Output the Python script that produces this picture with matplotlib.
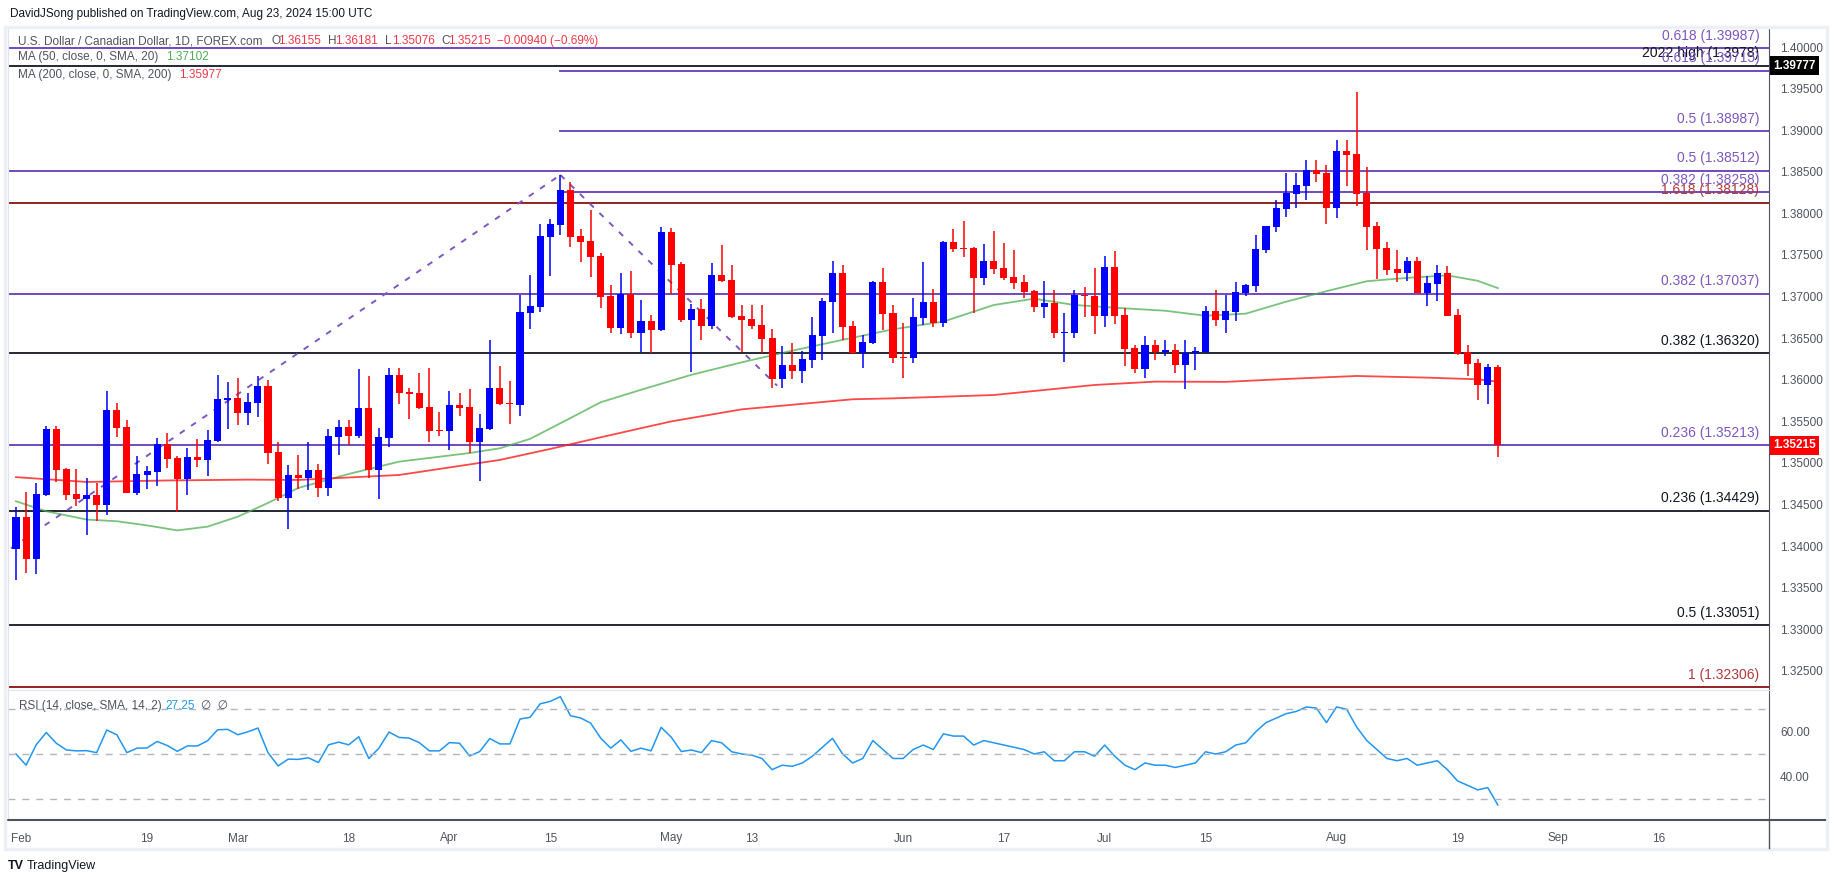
import numpy as np
import matplotlib
matplotlib.use("Agg")
import matplotlib.pyplot as plt
from matplotlib.lines import Line2D
from matplotlib.patches import Rectangle

plt.rcParams['font.family'] = ['Liberation Sans', 'DejaVu Sans']

# daily USD/CAD candles, Jan 31 - Aug 23 2024
opens = [1.33971, 1.34351, 1.33851, 1.34616, 1.35409, 1.34928, 1.34628, 1.34568, 1.34616, 1.34495,
         1.35637, 1.35433, 1.34640, 1.34856, 1.34892, 1.35229, 1.35060, 1.34808, 1.35072, 1.35036,
         1.35265, 1.35757, 1.35781, 1.35601, 1.35721, 1.35926, 1.35132, 1.34580, 1.34856, 1.34820,
         1.34916, 1.34700, 1.35313, 1.35433, 1.35325, 1.35661, 1.34916, 1.35301, 1.36058, 1.35854,
         1.35842, 1.35673, 1.35397, 1.35385, 1.35697, 1.35673, 1.35253, 1.35409, 1.35902, 1.35721,
         1.35697, 1.36803, 1.36875, 1.37716, 1.37861, 1.38281, 1.37728, 1.37668, 1.37488, 1.37007,
         1.36623, 1.37031, 1.36563, 1.36707, 1.36599, 1.37776, 1.37392, 1.36719, 1.36851, 1.36647,
         1.37260, 1.37200, 1.36767, 1.36731, 1.36659, 1.36503, 1.36010, 1.36178, 1.36106, 1.36238,
         1.36527, 1.36935, 1.37284, 1.36647, 1.36322, 1.36442, 1.37176, 1.36803, 1.36274, 1.36262,
         1.36743, 1.36935, 1.36683, 1.37656, 1.37584, 1.37584, 1.37224, 1.37428, 1.37344, 1.37236,
         1.37176, 1.37067, 1.36875, 1.36923, 1.36563, 1.36563, 1.37019, 1.37007, 1.36767, 1.37356,
         1.36779, 1.36382, 1.36130, 1.36418, 1.36334, 1.36358, 1.36178, 1.36318, 1.36335, 1.36827,
         1.36719, 1.36815, 1.37044, 1.37128, 1.37560, 1.37837, 1.38053, 1.38233, 1.38330, 1.38522,
         1.38486, 1.38065, 1.38750, 1.38714, 1.38245, 1.37849, 1.37584, 1.37332, 1.37284, 1.37428,
         1.37044, 1.37152, 1.37284, 1.36779, 1.36334, 1.36202, 1.35938, 1.36155]
highs = [1.34471, 1.34652, 1.34760, 1.35445, 1.35445, 1.34940, 1.34928, 1.34820, 1.34760, 1.35865,
         1.35721, 1.35517, 1.35084, 1.34964, 1.35301, 1.35361, 1.35084, 1.35180, 1.35289, 1.35397,
         1.36058, 1.35974, 1.36022, 1.35841, 1.36046, 1.35998, 1.35253, 1.34976, 1.35096, 1.35253,
         1.34988, 1.35409, 1.35517, 1.35517, 1.36130, 1.36046, 1.35421, 1.36142, 1.36142, 1.35902,
         1.36082, 1.36142, 1.35613, 1.35866, 1.35842, 1.35890, 1.35589, 1.36479, 1.36166, 1.35986,
         1.37019, 1.37260, 1.37873, 1.37933, 1.38462, 1.38377, 1.37813, 1.38041, 1.37524, 1.37140,
         1.37284, 1.37308, 1.36959, 1.36779, 1.37837, 1.37825, 1.37416, 1.36911, 1.36971, 1.37404,
         1.37620, 1.37380, 1.36899, 1.36899, 1.36899, 1.36611, 1.36406, 1.36442, 1.36346, 1.36755,
         1.36983, 1.37428, 1.37380, 1.36707, 1.36539, 1.37188, 1.37344, 1.36899, 1.36683, 1.36983,
         1.37416, 1.37091, 1.37668, 1.37812, 1.37909, 1.37596, 1.37632, 1.37788, 1.37644, 1.37560,
         1.37260, 1.37079, 1.37188, 1.37079, 1.36803, 1.37079, 1.37115, 1.37344, 1.37488, 1.37548,
         1.36863, 1.36418, 1.36527, 1.36478, 1.36478, 1.36430, 1.36478, 1.36395, 1.36887, 1.37080,
         1.37020, 1.37176, 1.37152, 1.37741, 1.37849, 1.38161, 1.38486, 1.38486, 1.38642, 1.38642,
         1.38582, 1.38882, 1.38882, 1.39459, 1.38558, 1.37897, 1.37656, 1.37560, 1.37476, 1.37476,
         1.37248, 1.37380, 1.37368, 1.36851, 1.36418, 1.36250, 1.36190, 1.36181]
lows = [1.33594, 1.33682, 1.33666, 1.34604, 1.34772, 1.34556, 1.34483, 1.34135, 1.34303, 1.34375,
        1.35313, 1.34640, 1.34616, 1.34688, 1.34724, 1.34940, 1.34411, 1.34616, 1.34952, 1.34844,
        1.35253, 1.35409, 1.35457, 1.35457, 1.35553, 1.34988, 1.34544, 1.34207, 1.34688, 1.34676,
        1.34592, 1.34604, 1.35097, 1.35217, 1.35301, 1.34820, 1.34568, 1.35193, 1.35709, 1.35529,
        1.35649, 1.35253, 1.35325, 1.35157, 1.35565, 1.35121, 1.34784, 1.35397, 1.35697, 1.35469,
        1.35565, 1.36611, 1.36815, 1.37248, 1.37740, 1.37596, 1.37416, 1.37236, 1.36863, 1.36563,
        1.36551, 1.36503, 1.36334, 1.36322, 1.36587, 1.37031, 1.36695, 1.36094, 1.36478, 1.36611,
        1.37176, 1.36743, 1.36334, 1.36611, 1.36322, 1.35902, 1.35902, 1.36010, 1.35962, 1.36142,
        1.36238, 1.36563, 1.36478, 1.36310, 1.36142, 1.36430, 1.36599, 1.36202, 1.36022, 1.36202,
        1.36659, 1.36635, 1.36635, 1.37536, 1.37476, 1.36803, 1.37140, 1.37272, 1.37200, 1.37091,
        1.36983, 1.36815, 1.36743, 1.36503, 1.36214, 1.36503, 1.36755, 1.36551, 1.36635, 1.36671,
        1.36166, 1.36082, 1.36022, 1.36238, 1.36286, 1.36082, 1.35890, 1.36118, 1.36322, 1.36647,
        1.36563, 1.36707, 1.37008, 1.37056, 1.37524, 1.37777, 1.37957, 1.38065, 1.38161, 1.38378,
        1.37873, 1.37945, 1.38330, 1.38089, 1.37560, 1.37212, 1.37260, 1.37176, 1.37188, 1.37044,
        1.36887, 1.36947, 1.36767, 1.36298, 1.36046, 1.35758, 1.35710, 1.35076]
closes = [1.34351, 1.33851, 1.34628, 1.35409, 1.34916, 1.34616, 1.34568, 1.34616, 1.34495, 1.35637,
          1.35421, 1.34640, 1.34868, 1.34904, 1.35229, 1.35048, 1.34808, 1.35072, 1.35036, 1.35277,
          1.35769, 1.35781, 1.35601, 1.35733, 1.35926, 1.35120, 1.34580, 1.34856, 1.34820, 1.34916,
          1.34700, 1.35325, 1.35433, 1.35325, 1.35661, 1.34916, 1.35313, 1.36058, 1.35842, 1.35830,
          1.35661, 1.35385, 1.35385, 1.35697, 1.35661, 1.35253, 1.35421, 1.35902, 1.35709, 1.35709,
          1.36815, 1.36887, 1.37728, 1.37873, 1.38281, 1.37716, 1.37656, 1.37476, 1.36995, 1.36623,
          1.37031, 1.36563, 1.36707, 1.36599, 1.37776, 1.37380, 1.36719, 1.36851, 1.36647, 1.37260,
          1.37188, 1.36755, 1.36719, 1.36647, 1.36490, 1.36010, 1.36178, 1.36106, 1.36250, 1.36539,
          1.36947, 1.37284, 1.36635, 1.36322, 1.36454, 1.37176, 1.36791, 1.36262, 1.36262, 1.36755,
          1.36935, 1.36683, 1.37656, 1.37572, 1.37572, 1.37224, 1.37428, 1.37332, 1.37224, 1.37164,
          1.37055, 1.36875, 1.36923, 1.36563, 1.36575, 1.37019, 1.37007, 1.36767, 1.37356, 1.36767,
          1.36370, 1.36130, 1.36418, 1.36334, 1.36358, 1.36178, 1.36322, 1.36343, 1.36827, 1.36719,
          1.36827, 1.37056, 1.37140, 1.37572, 1.37849, 1.38065, 1.38245, 1.38342, 1.38522, 1.38474,
          1.38065, 1.38750, 1.38702, 1.38233, 1.37837, 1.37572, 1.37320, 1.37284, 1.37428, 1.37044,
          1.37164, 1.37284, 1.36767, 1.36310, 1.36190, 1.35938, 1.36154, 1.35215]

# moving averages read at a subset of bars
ma50_idx = [0, 3, 7, 10, 13, 16, 19, 22, 25, 28, 33, 38, 45, 48, 51, 55, 58, 62, 67, 72, 77,
            82, 87, 92, 97, 101, 105, 110, 114, 118, 122, 126, 130, 134, 138, 142, 145, 147]
ma50_val = [1.34540, 1.34420, 1.34320, 1.34300, 1.34250, 1.34190, 1.34235, 1.34355, 1.34520,
            1.34700, 1.34868, 1.35016, 1.35120, 1.35177, 1.35290, 1.35540, 1.35730, 1.35880,
            1.36060, 1.36210, 1.36350, 1.36480, 1.36607, 1.36700, 1.36899, 1.36975, 1.36899,
            1.36859, 1.36830, 1.36770, 1.36795, 1.36939, 1.37065, 1.37185, 1.37225, 1.37255,
            1.37190, 1.37102]
ma200_idx = [0, 7, 15, 23, 28, 38, 48, 53, 58, 65, 72, 83, 87, 97, 107, 113, 120, 126, 133,
             140, 145, 147]
ma200_val = [1.34830, 1.34772, 1.34790, 1.34800, 1.34796, 1.34856, 1.35037, 1.35169, 1.35309,
             1.35500, 1.35645, 1.35766, 1.35777, 1.35817, 1.35938, 1.35978, 1.35975, 1.36010,
             1.36046, 1.36026, 1.36006, 1.35977]

rsi = [50.0, 45.0, 54.1, 59.6, 54.8, 51.8, 51.4, 51.5, 50.6, 60.7,
       58.6, 50.6, 52.6, 52.7, 55.6, 53.8, 51.2, 53.6, 53.6, 55.9,
       60.8, 61.0, 58.6, 59.9, 61.6, 50.6, 44.7, 47.7, 47.6, 48.3,
       46.2, 54.1, 55.3, 54.1, 57.7, 48.0, 52.6, 59.8, 57.4, 57.1,
       55.1, 51.4, 51.4, 55.1, 54.8, 49.1, 51.1, 56.9, 54.5, 54.5,
       65.6, 66.4, 72.4, 73.5, 75.6, 67.1, 66.1, 63.8, 57.1, 52.6,
       56.3, 51.2, 52.6, 51.4, 61.9, 57.5, 51.1, 51.8, 50.6, 56.0,
       55.0, 51.0, 50.0, 49.5, 48.0, 43.0, 45.0, 44.5, 46.0, 49.0,
       53.0, 57.0, 50.0, 46.0, 48.0, 56.0, 52.0, 48.0, 48.0, 52.0,
       54.0, 52.0, 59.0, 58.0, 58.0, 54.0, 56.0, 55.0, 54.0, 53.0,
       52.0, 50.0, 51.0, 47.0, 47.0, 51.0, 51.0, 49.0, 54.0, 49.0,
       45.0, 43.0, 46.0, 45.0, 45.0, 44.0, 45.0, 46.0, 51.0, 50.0,
       51.0, 54.0, 55.0, 60.0, 64.0, 66.0, 68.0, 69.0, 71.0, 70.5,
       64.0, 71.0, 70.0, 62.0, 56.0, 52.0, 48.0, 47.0, 48.0, 45.0,
       46.0, 47.0, 43.0, 38.0, 36.0, 34.0, 35.0, 27.25]

fib_levels = [1.39987, 1.39777, 1.39715, 1.38987, 1.38512, 1.38258, 1.38128, 1.37037,
              1.36320, 1.35213, 1.34429, 1.33051, 1.32306]
fib_labels = ["0.618 (1.39987)", "2022 high (1.3978)", "0.618 (1.39715)", "0.5 (1.38987)",
              "0.5 (1.38512)", "0.382 (1.38258)", "1.618 (1.38128)", "0.382 (1.37037)",
              "0.382 (1.36320)", "0.236 (1.35213)", "0.236 (1.34429)", "0.5 (1.33051)",
              "1 (1.32306)"]
fib_start = [None, None, 54, 54, None, 54, None, None, None, None, None, None, None]
fib_kind = ["p", "k", "p", "p", "p", "p", "r", "p", "k", "p", "k", "k", "r"]

month_pos = [0.5, 13, 22, 33, 43, 53, 65, 73, 88, 98, 108, 118, 131, 143, 153, 163]
month_lab = ["Feb", "19", "Mar", "18", "Apr", "15", "May", "13", "Jun", "17", "Jul", "15",
             "Aug", "19", "Sep", "16"]

W, H = 1835, 883
def box(x0, y0, x1, y1):
    return [x0 / W, 1 - y1 / H, (x1 - x0) / W, (y1 - y0) / H]

fig = plt.figure(figsize=(W / 100, H / 100), dpi=100)
fig.patch.set_facecolor("white")

# light frame around the chart pane
fig.patches.append(Rectangle((5 / W, 1 - 849 / H), 1822 / W, 822 / H, transform=fig.transFigure,
                             fill=False, ec="#eceff5", lw=2.5))

ax = fig.add_axes(box(8, 27, 1769, 690))
rx = fig.add_axes(box(8, 690, 1769, 820))
xlim = (-0.794, 173.9)

line_col = {"p": "#673ab7", "k": "#131722", "r": "#8b1010"}
text_col = {"p": "#7e57c2", "k": "#131722", "r": "#b23a3a"}

# candles
n = len(closes)
x = np.arange(n)
o = np.array(opens); c = np.array(closes)
cols = np.where(c >= o, "#0000ff", "#ff0000")
ax.vlines(x, lows, highs, colors=cols, lw=1.1, zorder=3)
body_lo = np.minimum(o, c)
body_h = np.maximum(np.abs(c - o), 0.00012)
ax.bar(x, body_h, bottom=body_lo, width=0.7, color=cols, lw=0, zorder=4)

# moving averages
ax.plot(ma50_idx, ma50_val, color="#4caf50", lw=1.3, alpha=0.75, zorder=2)
ax.plot(ma200_idx, ma200_val, color="#ff1a1a", lw=1.3, alpha=0.8, zorder=2)

# fib / level lines
for lv, lab, st, kd in zip(fib_levels, fib_labels, fib_start, fib_kind):
    x0 = xlim[0] if st is None else st
    ax.plot([x0, xlim[1]], [lv, lv], color=line_col[kd], lw=1.3, zorder=1)
    ax.annotate(lab, xy=(1, lv), xycoords=("axes fraction", "data"), xytext=(-7, 6),
                textcoords="offset points", ha="right", va="baseline", fontsize=10,
                color=text_col[kd], zorder=6)

# dashed swing lines
ax.plot([-0.5, 54], [1.33975, 1.38462], color="#7e57c2", lw=1.4, ls=(0, (3, 4)), zorder=2)
ax.plot([54, 75.5], [1.38462, 1.3593], color="#7e57c2", lw=1.4, ls=(0, (3, 4)), zorder=2)

ax.set_xlim(*xlim)
ax.set_ylim(1.322716, 1.402404)
ax.set_xticks([])
price_ticks = np.round(np.arange(1.325, 1.4001, 0.005), 3)
ax.yaxis.tick_right()
ax.set_yticks(price_ticks)
ax.set_yticklabels(["%.5f" % p for p in price_ticks])
ax.tick_params(axis="y", length=0, pad=8, labelsize=8.5, labelcolor="#50535e")
for s in ["top", "bottom"]:
    ax.spines[s].set_visible(False)
ax.spines["left"].set_color("#e0e3eb")
ax.spines["right"].set_color("#50535e")

# price axis markers
ax.annotate("1.39777", xy=(1, 1.39777), xycoords=("axes fraction", "data"), xytext=(3, 0),
            textcoords="offset points", ha="left", va="center", fontsize=8.5, color="white",
            fontweight="bold", bbox=dict(boxstyle="square,pad=0.3", fc="black", ec="none"))
ax.annotate("1.35215", xy=(1, 1.35215), xycoords=("axes fraction", "data"), xytext=(3, 0),
            textcoords="offset points", ha="left", va="center", fontsize=8.5, color="white",
            fontweight="bold", bbox=dict(boxstyle="square,pad=0.3", fc="#ff0000", ec="none"))

# RSI pane
rx.plot(x, rsi, color="#2196f3", lw=1.1)
for lv in [70, 50, 30]:
    rx.axhline(lv, color="#b2b5be", lw=1, ls=(0, (5, 5)))
rx.set_xlim(*xlim)
rx.set_ylim(20.54, 78.57)
rx.yaxis.tick_right()
rx.set_yticks([60, 40])
rx.set_yticklabels(["60.00", "40.00"])
rx.tick_params(axis="y", length=0, pad=8, labelsize=8.5, labelcolor="#50535e")
rx.set_xticks(month_pos)
rx.set_xticklabels(month_lab)
rx.tick_params(axis="x", length=0, pad=9, labelsize=8.5, labelcolor="#50535e")
rx.spines["top"].set_color("#e0e3eb")
rx.spines["left"].set_color("#e0e3eb")
rx.spines["right"].set_color("#50535e")
rx.spines["bottom"].set_color("#50535e")
rx.spines["bottom"].set_linewidth(1.5)

# axis line continues through the time scale row
fig.add_artist(Line2D([1769 / W, 1769 / W], [1 - 848 / H, 1 - 820 / H], color="#50535e", lw=1))
fig.add_artist(Line2D([1769 / W, 1825 / W], [1 - 820 / H, 1 - 820 / H], color="#50535e", lw=1.5))

# texts
fig.text(10 / W, 1 - 14 / H, "DavidJSong published on TradingView.com, Aug 23, 2024 15:00 UTC",
         fontsize=8.5, color="#131722", va="center")
fig.text(18 / W, 1 - 41 / H, "U.S. Dollar / Canadian Dollar, 1D, FOREX.com", fontsize=8.5,
         color="#50535e", va="center")
ohlc = [(271, "O", "1.36155"), (328, "H", "1.36181"), (385, "L", "1.35076"), (441, "C", "1.35215")]
for px, k, v in ohlc:
    fig.text(px / W, 1 - 41 / H, k, fontsize=8.5, color="#50535e", va="center")
    fig.text((px + 7) / W, 1 - 41 / H, v, fontsize=8.5, color="#f23645", va="center")
fig.text(497 / W, 1 - 41 / H, "\u22120.00940 (\u22120.69%)", fontsize=8.5, color="#f23645", va="center")
fig.text(18 / W, 1 - 57 / H, "MA (50, close, 0, SMA, 20)", fontsize=8.5, color="#50535e", va="center")
fig.text(166 / W, 1 - 57 / H, "1.37102", fontsize=8.5, color="#4caf50", va="center")
fig.text(18 / W, 1 - 75 / H, "MA (200, close, 0, SMA, 200)", fontsize=8.5, color="#50535e", va="center")
fig.text(179 / W, 1 - 75 / H, "1.35977", fontsize=8.5, color="#f23645", va="center")
fig.text(19 / W, 1 - 706 / H, "RSI (14, close, SMA, 14, 2)", fontsize=8.5, color="#50535e", va="center")
fig.text(165 / W, 1 - 706 / H, "27.25", fontsize=8.5, color="#2196f3", va="center")
fig.text(201 / W, 1 - 706 / H, "\u2205  \u2205", fontsize=8.5, color="#50535e", va="center")

fig.text(8 / W, 1 - 866 / H, "TV", fontsize=9, fontweight="bold", color="#131722", va="center")
fig.text(27 / W, 1 - 866 / H, "TradingView", fontsize=9, color="#131722", va="center")

fig.savefig("out.png", dpi=100)
